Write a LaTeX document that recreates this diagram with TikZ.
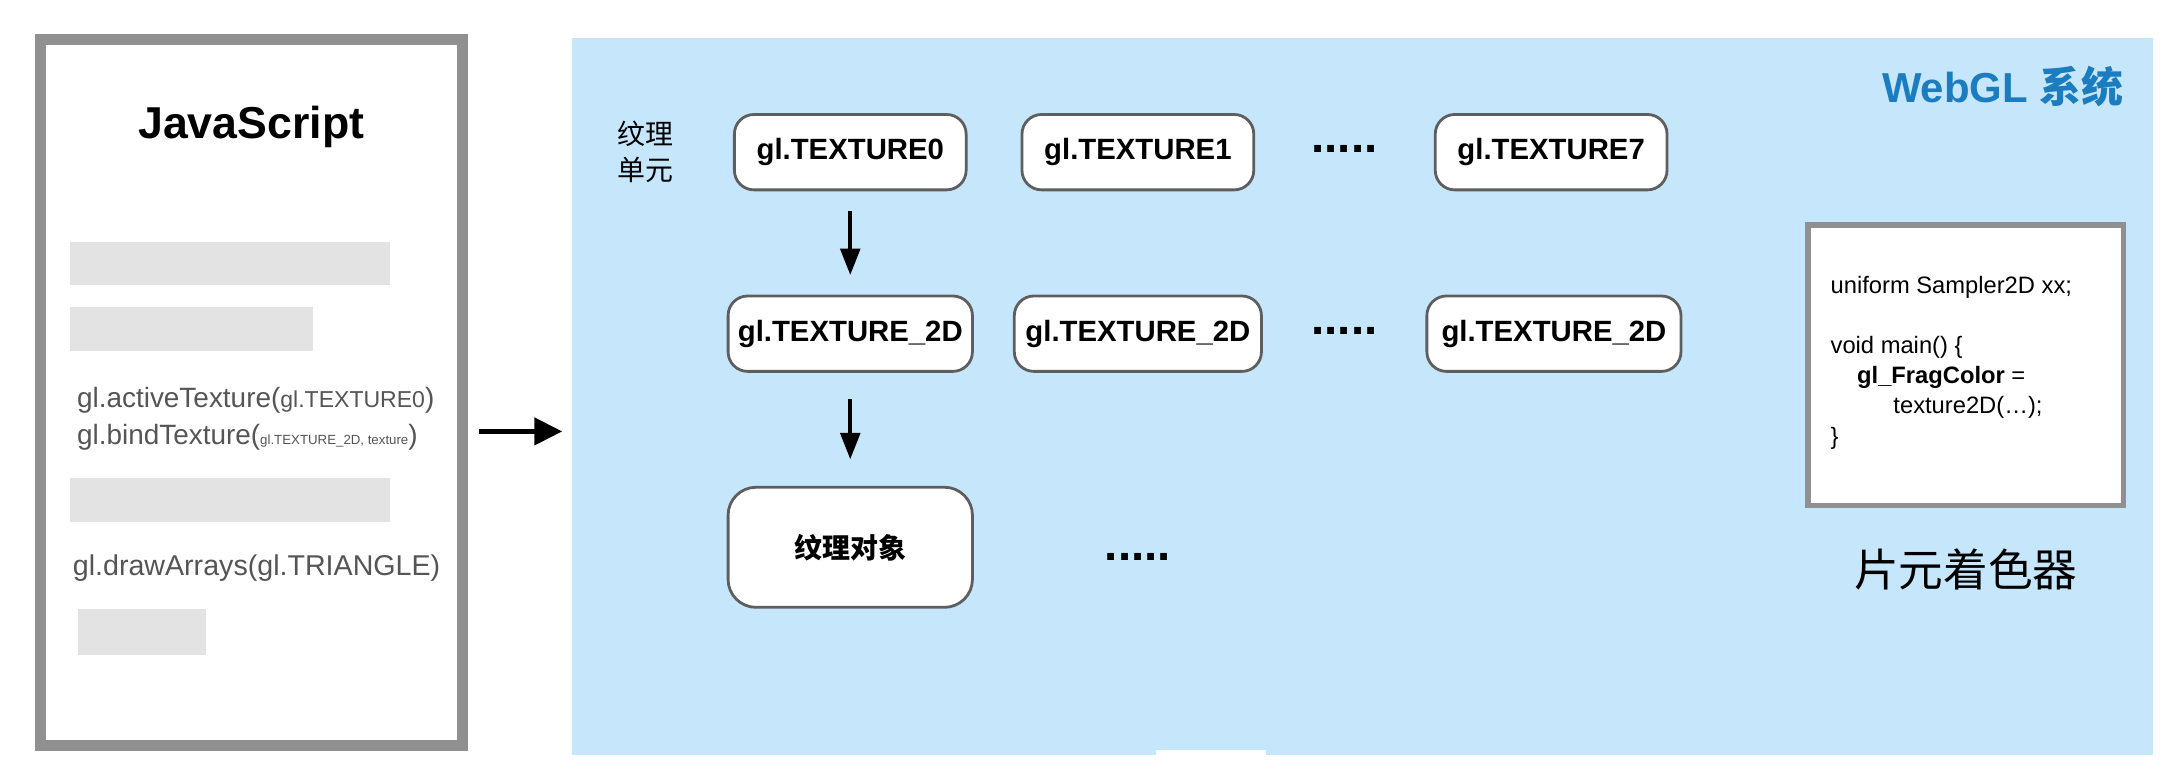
\documentclass[tikz,border=0pt]{standalone}
\usepackage{fontspec}
\setmainfont{Liberation Sans}
\newfontfamily\cjk{Noto Sans CJK SC}
\usetikzlibrary{arrows.meta}
\definecolor{framegray}{HTML}{909090}
\definecolor{bargray}{HTML}{E3E3E3}
\definecolor{skyblue}{HTML}{C5E6FB}
\definecolor{titleblue}{HTML}{1C7CC0}
\definecolor{nodeborder}{HTML}{5E5E5E}
\definecolor{codegray}{HTML}{555555}
\newcommand{\myfs}[1]{\fontsize{#1}{#1}\selectfont}
\begin{document}
\begin{tikzpicture}[x=1pt,y=-1pt,
  frame/.style={draw=framegray, fill=white, inner sep=0pt},
  bar/.style={fill=bargray, inner sep=0pt, anchor=north west},
  texbox/.style={draw=nodeborder, line width=2pt, fill=white, rounded corners=14pt,
     minimum height=54pt, inner sep=0pt, font=\myfs{21}\bfseries},
  dots/.style={font=\myfs{34}\bfseries, inner sep=0pt},
  bigarrow/.style={line width=4pt, -{Triangle[length=20pt,width=19pt]}},
  downarrow/.style={line width=3pt, -{Triangle[length=19pt,width=14pt]}},
  codetext/.style={text=codegray, inner sep=0pt, anchor=west},
]
\useasboundingbox (0,0) rectangle (1560,560);
\fill[white] (0,0) rectangle (1560,560);

% JavaScript frame
\node[frame, line width=8pt, minimum width=302pt, minimum height=506pt] (js) at (180,281) {};
\node[font=\myfs{32}\bfseries, inner sep=0pt] (jstitle) at (180,91) {JavaScript};
\node[bar, minimum width=229pt, minimum height=31pt] (bar1) at (50,173) {};
\node[bar, minimum width=174pt, minimum height=31pt] (bar2) at (50,220) {};
\node[bar, minimum width=229pt, minimum height=32pt] (bar3) at (50,342) {};
\node[bar, minimum width=91pt, minimum height=33pt] (bar4) at (56,436) {};
\node[codetext, font=\myfs{20}] (l1) at (55,287) {gl.activeTexture({\myfs{16.5}gl.TEXTURE0})};
\node[codetext, font=\myfs{20}] (l2) at (55,313) {gl.bindTexture({\myfs{9.5}gl.TEXTURE\_2D, texture})};
\node[codetext, font=\myfs{20.5}] (l3) at (52,407) {gl.drawArrays(gl.TRIANGLE)};

% WebGL region
\node[fill=skyblue, inner sep=0pt, minimum width=1132pt, minimum height=514pt] (webgl) at (976,284) {};
\fill[white] (828,537) rectangle (907,542);
\node[anchor=east, inner sep=0pt, text=titleblue, font=\myfs{30}\bfseries] (webgltitle) at (1521,62) {WebGL {\cjk 系统}};

\coordinate (jsarrow) at (0,309);
\draw[bigarrow, shorten <=8pt, shorten >=7pt] (js.east |- jsarrow) -- (webgl.west |- jsarrow);

% texture units
\node[inner sep=0pt, align=center, font=\cjk\myfs{20}] (unitlabel) at (462,109) {纹理\\[6pt]单元};
\node[texbox, minimum width=166pt] (t0) at (609,109) {gl.TEXTURE0};
\node[texbox, minimum width=166pt] (t1) at (815,109) {gl.TEXTURE1};
\node[dots] (d1) at (963,107) {.....};
\node[texbox, minimum width=166pt] (t7) at (1111,109) {gl.TEXTURE7};

\node[texbox, minimum width=175pt] (b0) at (609,239) {gl.TEXTURE\_2D};
\node[texbox, minimum width=177pt] (b1) at (815,239) {gl.TEXTURE\_2D};
\node[dots] (d2) at (963,237) {.....};
\node[texbox, minimum width=182pt] (b7) at (1113,239) {gl.TEXTURE\_2D};

\node[texbox, minimum width=175pt, minimum height=86pt, rounded corners=20pt, font=\cjk\myfs{20}\bfseries] (obj) at (609,392) {纹理对象};
\node[dots] (d3) at (815,399) {.....};

\draw[downarrow, shorten <=14pt, shorten >=14pt] (t0.south) -- (b0.north);
\draw[downarrow, shorten <=19pt, shorten >=19pt] (b0.south) -- (obj.north);

% fragment shader
\node[frame, line width=4pt, minimum width=226pt, minimum height=201pt] (shader) at (1408,261.5) {};
\node[anchor=north west, inner sep=0pt, align=left, font=\fontsize{17}{21.5}\selectfont]
  (code) at (1311,198) {%
  uniform Sampler2D xx;\\
  \mbox{}\\
  void main() \{\\
  \hspace*{19pt}\textbf{gl\_FragColor} =\\
  \hspace*{45pt}texture2D(\ldots);\\
  \}};
\node[inner sep=0pt, font=\cjk\myfs{32}] (shadername) at (1408,408) {片元着色器};
\end{tikzpicture}
\end{document}
